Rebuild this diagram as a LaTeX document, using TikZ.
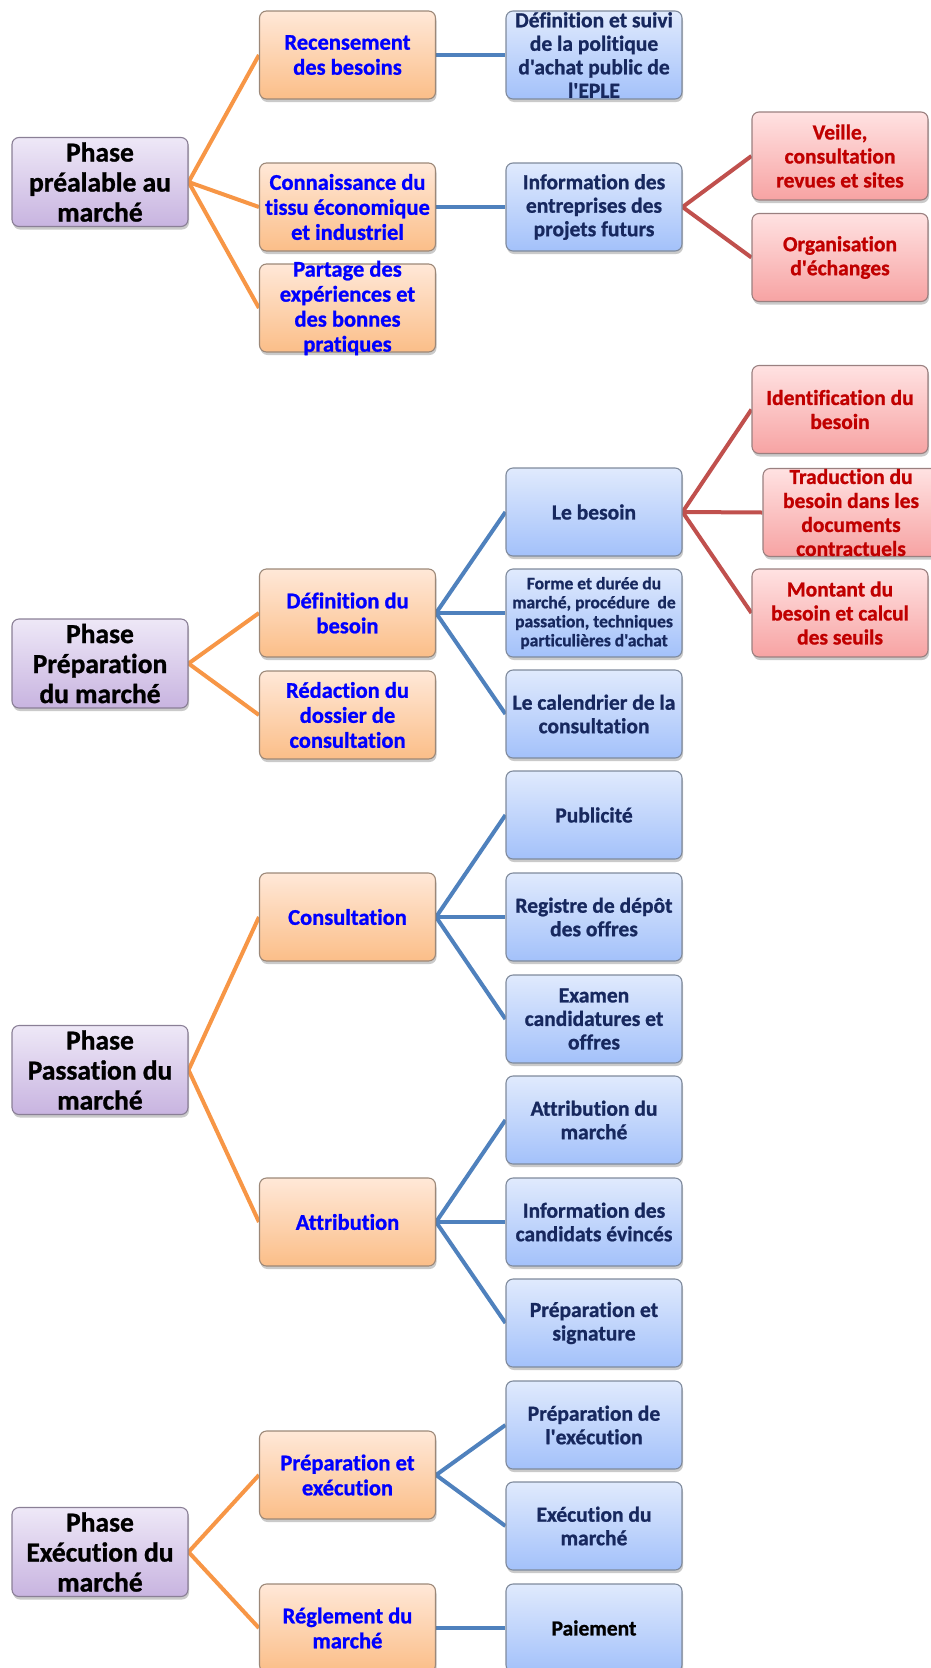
\documentclass[tikz,border=0pt]{standalone}
\usepackage{fontspec}
\setmainfont{Carlito}[Ligatures={TeXOff,CommonOff}, BoldFeatures={FakeBold=1}]
\usetikzlibrary{shadows,backgrounds}
\definecolor{pTop}{HTML}{EEE8F7}
\definecolor{pBot}{HTML}{C8B4E0}
\definecolor{pBord}{HTML}{8A7F96}
\definecolor{oTop}{HTML}{FFE8D8}
\definecolor{oBot}{HTML}{FBBE88}
\definecolor{oBord}{HTML}{9C8878}
\definecolor{bTop}{HTML}{E0EAFD}
\definecolor{bBot}{HTML}{A3C1FA}
\definecolor{bBord}{HTML}{7F8A9C}
\definecolor{rTop}{HTML}{FFE2E2}
\definecolor{rBot}{HTML}{F7A3A3}
\definecolor{rBord}{HTML}{9A8080}
\definecolor{oLine}{HTML}{F79646}
\definecolor{bLine}{HTML}{4F81BD}
\definecolor{rLine}{HTML}{C0504D}
\definecolor{navy}{HTML}{17285E}
\definecolor{dred}{HTML}{C00000}
\tikzset{
  boxbase/.style={rounded corners=7pt, line width=1.1pt, minimum width=176pt, minimum height=88pt,
    inner sep=0pt, drop shadow={shadow xshift=1pt, shadow yshift=-3pt, opacity=0.35, fill=black!60}},
  pbox/.style={boxbase, draw=pBord, top color=pTop, bottom color=pBot, minimum height=89pt},
  obox/.style={boxbase, draw=oBord, top color=oTop, bottom color=oBot},
  bbox/.style={boxbase, draw=bBord, top color=bTop, bottom color=bBot},
  rbox/.style={boxbase, draw=rBord, top color=rTop, bottom color=rBot},
  ptext/.style={align=center, inner sep=0pt, font=\fontsize{27.5}{30}\selectfont\bfseries, text=black},
  otext/.style={align=center, inner sep=0pt, font=\fontsize{22.5}{25}\selectfont\bfseries, text=blue},
  btext/.style={align=center, inner sep=0pt, font=\fontsize{21.5}{23.5}\selectfont\bfseries, text=navy},
  bsmall/.style={align=center, inner sep=0pt, font=\fontsize{17.5}{19}\selectfont\bfseries, text=navy},
  rtext/.style={align=center, inner sep=0pt, font=\fontsize{21.5}{24}\selectfont\bfseries, text=dred},
  oline/.style={draw=oLine, line width=4pt},
  bline/.style={draw=bLine, line width=4pt},
  rline/.style={draw=rLine, line width=4pt},
}
\begin{document}
\begin{tikzpicture}[x=1pt,y=-1pt]
\useasboundingbox (0,0) rectangle (931,1668);
% ---- Phase préalable
\node[pbox, label={[ptext]center:Phase\\préalable au\\marché}] (p1) at (100,182) {};
\node[obox, label={[otext]center:Recensement\\des besoins}] (recens) at (347.5,55) {};
\node[obox, label={[otext]center:Connaissance du\\tissu économique\\et industriel}] (connais) at (347.5,207) {};
\node[obox, label={[otext]center:Partage des\\expériences et\\des bonnes\\pratiques}] (partage) at (347.5,308) {};
\node[bbox, label={[btext]center:Définition et suivi\\de la politique\\d'achat public de\\l'EPLE}] (defsuivi) at (594,55) {};
\node[bbox, label={[btext]center:Information des\\entreprises des\\projets futurs}] (infoent) at (594,207) {};
\node[rbox, label={[rtext]center:Veille,\\consultation\\revues et sites}] (veille) at (840,156) {};
\node[rbox, label={[rtext]center:Organisation\\d'échanges}] (organis) at (840,257.5) {};
% ---- Phase préparation
\node[pbox, label={[ptext]center:Phase\\Préparation\\du marché}] (p2) at (100,663.5) {};
\node[obox, label={[otext]center:Définition du\\besoin}] (defbes) at (347.5,613) {};
\node[obox, label={[otext]center:Rédaction du\\dossier de\\consultation}] (redac) at (347.5,715) {};
\node[bbox, label={[btext]center:Le besoin}] (lebesoin) at (594,512) {};
\node[bbox, label={[bsmall]center:Forme et durée du\\marché, procédure~ de\\passation, techniques\\particulières d'achat}] (forme) at (594,613) {};
\node[bbox, label={[btext]center:Le calendrier de la\\consultation}] (calend) at (594,714) {};
\node[rbox, label={[rtext]center:Identification du\\besoin}] (ident) at (840,409.5) {};
\node[rbox, label={[rtext]center:Traduction du\\besoin dans les\\documents\\contractuels}] (trad) at (851,512.5) {};
\node[rbox, label={[rtext]center:Montant du\\besoin et calcul\\des seuils}] (montant) at (840,613) {};
% ---- Phase passation
\node[pbox, label={[ptext]center:Phase\\Passation du\\marché}] (p3) at (100,1070) {};
\node[obox, label={[otext]center:Consultation}] (consult) at (347.5,917) {};
\node[obox, label={[otext]center:Attribution}] (attrib) at (347.5,1222) {};
\node[bbox, label={[btext]center:Publicité}] (pub) at (594,815) {};
\node[bbox, label={[btext]center:Registre de dépôt\\des offres}] (registre) at (594,917) {};
\node[bbox, label={[btext]center:Examen\\candidatures et\\offres}] (examen) at (594,1019) {};
\node[bbox, label={[btext]center:Attribution du\\marché}] (attmarche) at (594,1120) {};
\node[bbox, label={[btext]center:Information des\\candidats évincés}] (infocand) at (594,1222) {};
\node[bbox, label={[btext]center:Préparation et\\signature}] (prepsign) at (594,1323) {};
% ---- Phase exécution
\node[pbox, label={[ptext]center:Phase\\Exécution du\\marché}] (p4) at (100,1552) {};
\node[obox, label={[otext]center:Préparation et\\exécution}] (prepexec) at (347.5,1475) {};
\node[obox, label={[otext]center:Réglement du\\marché}] (reglement) at (347.5,1628) {};
\node[bbox, label={[btext]center:Préparation de\\l'exécution}] (prepdel) at (594,1425) {};
\node[bbox, label={[btext]center:Exécution du\\marché}] (execmarche) at (594,1526) {};
\node[bbox, label={[btext, text=black]center:Paiement}] (paiement) at (594,1628) {};
% ---- connectors
\begin{scope}[on background layer]
\draw[oline] (p1.east) -- (recens.west);
\draw[oline] (p1.east) -- (connais.west);
\draw[oline] (p1.east) -- (partage.west);
\draw[bline] (recens.east) -- (defsuivi.west);
\draw[bline] (connais.east) -- (infoent.west);
\draw[rline] (infoent.east) -- (veille.west);
\draw[rline] (infoent.east) -- (organis.west);
\draw[oline] (p2.east) -- (defbes.west);
\draw[oline] (p2.east) -- (redac.west);
\draw[bline] (defbes.east) -- (lebesoin.west);
\draw[bline] (defbes.east) -- (forme.west);
\draw[bline] (defbes.east) -- (calend.west);
\draw[rline] (lebesoin.east) -- (ident.west);
\draw[rline] (lebesoin.east) -- (trad.west);
\draw[rline] (lebesoin.east) -- (montant.west);
\draw[oline] (p3.east) -- (consult.west);
\draw[oline] (p3.east) -- (attrib.west);
\draw[bline] (consult.east) -- (pub.west);
\draw[bline] (consult.east) -- (registre.west);
\draw[bline] (consult.east) -- (examen.west);
\draw[bline] (attrib.east) -- (attmarche.west);
\draw[bline] (attrib.east) -- (infocand.west);
\draw[bline] (attrib.east) -- (prepsign.west);
\draw[oline] (p4.east) -- (prepexec.west);
\draw[oline] (p4.east) -- (reglement.west);
\draw[bline] (prepexec.east) -- (prepdel.west);
\draw[bline] (prepexec.east) -- (execmarche.west);
\draw[bline] (reglement.east) -- (paiement.west);
\end{scope}
\end{tikzpicture}
\end{document}
